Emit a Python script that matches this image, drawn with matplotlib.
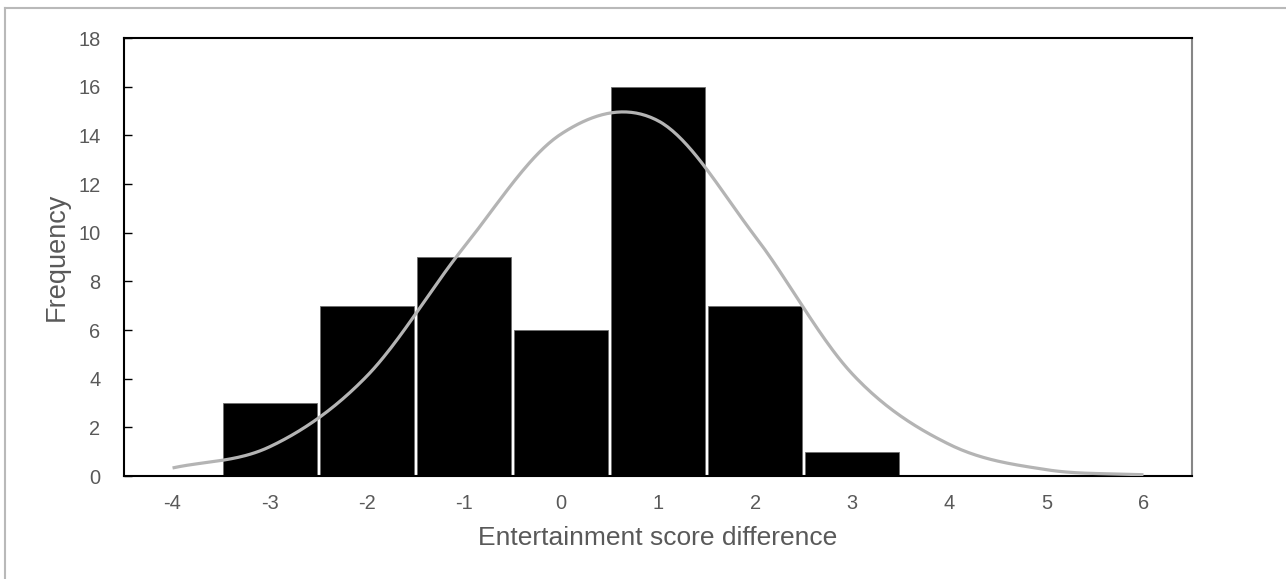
import numpy as np
import matplotlib
matplotlib.use("Agg")
import matplotlib.pyplot as plt
from matplotlib.lines import Line2D

# ---- data ----
categories = ["-4", "-3", "-2", "-1", "0", "1", "2", "3", "4", "5", "6"]
bar_values = [0, 3, 7, 9, 6, 16, 7, 1, 0, 0, 0]
curve_values = [0.33, 1.2, 4.1, 9.4, 14.05, 14.6, 9.85, 4.2, 1.3, 0.26, 0.05]
y_ticks = [0, 2, 4, 6, 8, 10, 12, 14, 16, 18]

plt.rcParams['font.family'] = ['Liberation Sans', 'DejaVu Sans']

W, H = 1286, 579
fig = plt.figure(figsize=(W / 100, H / 100), dpi=100)

# axes placement (pixels)
left, right, top, bottom = 124, 1192, 38, 476
ax = fig.add_axes([left / W, 1 - bottom / H, (right - left) / W, (bottom - top) / H])

x = np.arange(len(categories))
ax.bar(x, bar_values, width=0.97, color='black', edgecolor='#6e6e6e', linewidth=0.6, zorder=2)


def catmull_rom(xs, ys, n=40):
    xs = np.asarray(xs, float)
    ys = np.asarray(ys, float)
    m = len(xs)
    mx = np.zeros(m)
    my = np.zeros(m)
    for i in range(m):
        if i == 0:
            mx[i] = xs[1] - xs[0]
            my[i] = ys[1] - ys[0]
        elif i == m - 1:
            mx[i] = xs[-1] - xs[-2]
            my[i] = ys[-1] - ys[-2]
        else:
            mx[i] = (xs[i + 1] - xs[i - 1]) / 2
            my[i] = (ys[i + 1] - ys[i - 1]) / 2
    outx, outy = [], []
    t = np.linspace(0, 1, n, endpoint=False)
    h00 = 2 * t**3 - 3 * t**2 + 1
    h10 = t**3 - 2 * t**2 + t
    h01 = -2 * t**3 + 3 * t**2
    h11 = t**3 - t**2
    for i in range(m - 1):
        outx.extend(h00 * xs[i] + h10 * mx[i] + h01 * xs[i + 1] + h11 * mx[i + 1])
        outy.extend(h00 * ys[i] + h10 * my[i] + h01 * ys[i + 1] + h11 * my[i + 1])
    outx.append(xs[-1])
    outy.append(ys[-1])
    return np.array(outx), np.array(outy)


cx, cy = catmull_rom(x, curve_values)
ax.plot(cx, cy, color='#b4b4b4', linewidth=2.3, solid_capstyle='butt', zorder=3)

ax.set_xlim(-0.5, len(categories) - 0.5)
ax.set_ylim(0, 18)
ax.set_xticks(x)
ax.set_xticklabels(categories)
ax.set_yticks(y_ticks)

ax.tick_params(axis='x', length=0, pad=13, labelsize=14.4, labelcolor='#595959')
ax.tick_params(axis='y', direction='in', length=5.8, width=1, color='black',
               pad=17, labelsize=14.4, labelcolor='#595959')

for s in ['left', 'top', 'bottom']:
    ax.spines[s].set_color('black')
    ax.spines[s].set_linewidth(1.5)
ax.spines['right'].set_color('#868686')
ax.spines['right'].set_linewidth(1.5)

ax.set_xlabel('Entertainment score difference', fontsize=19, color='#595959', labelpad=9)
ax.set_ylabel('Frequency', fontsize=19.5, color='#595959', labelpad=6)

# outer chart border (left and top visible)
fig.add_artist(Line2D([5 / W, 5 / W], [0, 1 - 8 / H], transform=fig.transFigure,
                      color='#b9b9b9', linewidth=1.5))
fig.add_artist(Line2D([5 / W, 1], [1 - 8 / H, 1 - 8 / H], transform=fig.transFigure,
                      color='#b9b9b9', linewidth=1.5))

fig.savefig('out.png', dpi=100)
